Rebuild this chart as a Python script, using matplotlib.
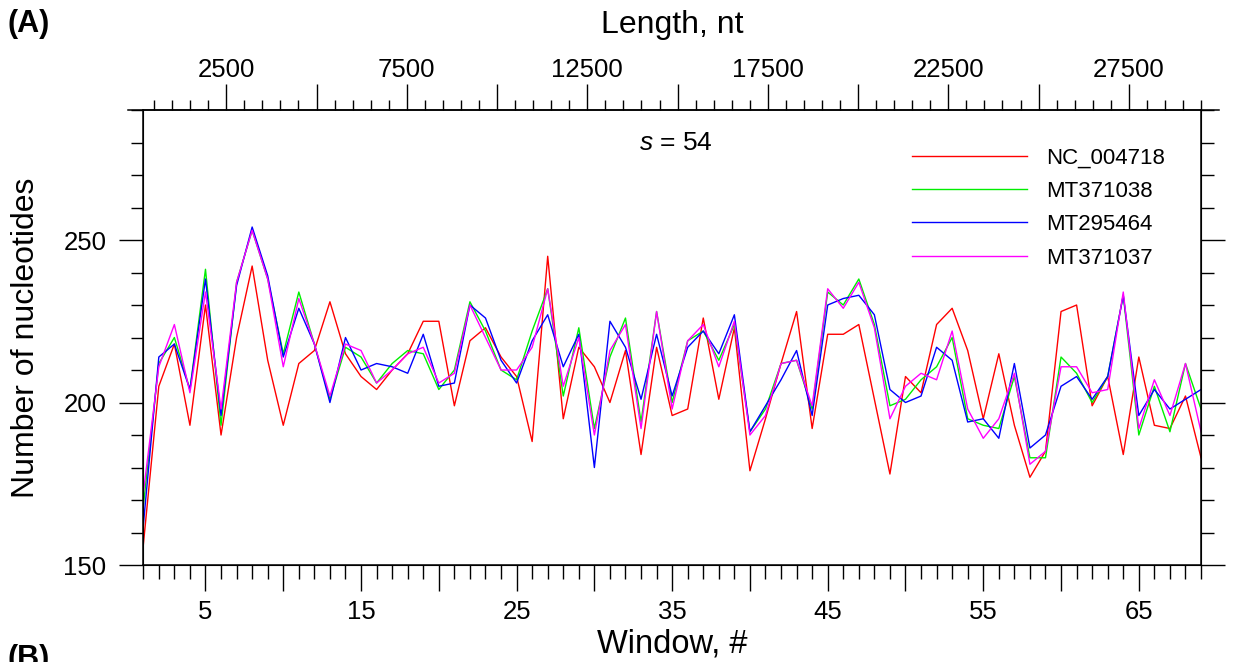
import numpy as np
import matplotlib.pyplot as plt
from matplotlib.ticker import MultipleLocator, FuncFormatter

plt.rcParams['font.family'] = ['Liberation Sans', 'DejaVu Sans']
plt.rcParams['mathtext.fontset'] = 'custom'
plt.rcParams['mathtext.it'] = 'Liberation Sans:italic'
plt.rcParams['mathtext.rm'] = 'Liberation Sans'

window = np.arange(1, 70)
nc_004718 = [156, 205, 218, 193, 230, 190, 220, 242, 213, 193,
             212, 216, 231, 215, 208, 204, 210, 215, 225, 225,
             199, 219, 223, 214, 208, 188, 245, 195, 217, 211,
             200, 216, 184, 217, 196, 198, 226, 201, 223, 179,
             195, 212, 228, 192, 221, 221, 224, 201, 178, 208,
             203, 224, 229, 216, 195, 215, 193, 177, 185, 228,
             230, 199, 208, 184, 214, 193, 192, 202, 183]
mt371038 = [168, 212, 220, 204, 241, 193, 237, 253, 238, 215,
            234, 218, 201, 217, 214, 206, 212, 216, 215, 204,
            210, 231, 222, 210, 207, 222, 235, 202, 223, 192,
            214, 226, 194, 228, 200, 219, 222, 213, 224, 191,
            198, 212, 213, 198, 234, 230, 238, 224, 199, 201,
            207, 211, 220, 195, 193, 192, 208, 183, 183, 214,
            209, 200, 208, 233, 190, 205, 191, 212, 198]
mt295464 = [162, 214, 218, 204, 238, 196, 236, 254, 239, 214,
            229, 218, 200, 220, 210, 212, 211, 209, 221, 205,
            206, 230, 226, 213, 206, 219, 227, 211, 221, 180,
            225, 217, 201, 221, 202, 217, 222, 215, 227, 191,
            199, 207, 216, 196, 230, 232, 233, 227, 204, 200,
            202, 217, 213, 194, 195, 189, 212, 186, 190, 205,
            208, 201, 208, 233, 196, 204, 198, 201, 204]
mt371037 = [172, 211, 224, 203, 234, 198, 237, 253, 238, 211,
            232, 218, 202, 218, 216, 206, 210, 215, 217, 206,
            209, 230, 220, 210, 210, 217, 235, 205, 220, 190,
            216, 224, 192, 228, 198, 219, 224, 211, 225, 190,
            196, 212, 213, 199, 235, 229, 237, 223, 195, 205,
            209, 207, 222, 198, 189, 195, 209, 181, 185, 211,
            211, 203, 204, 234, 192, 207, 196, 212, 191]

names = ['NC_004718', 'MT371038', 'MT295464', 'MT371037']
colors = ['#ff0000', '#00ee00', '#0000ff', '#ff00ff']
series = [nc_004718, mt371038, mt295464, mt371037]

fig = plt.figure(figsize=(12.35, 6.62), dpi=100)
ax = fig.add_axes([0.116, 0.1465, 0.8565, 0.6873])

for vals, name, c in zip(series, names, colors):
    ax.plot(window, vals, color=c, lw=1.0, label=name)

ax.set_xlim(1, 69)
ax.set_ylim(150, 290)

# bottom axis: windows
ax.xaxis.set_major_locator(MultipleLocator(5))
ax.xaxis.set_minor_locator(MultipleLocator(1))
ax.xaxis.set_major_formatter(FuncFormatter(lambda v, p: '%d' % v if int(v) % 10 == 5 else ''))
ax.yaxis.set_major_locator(MultipleLocator(50))
ax.yaxis.set_minor_locator(MultipleLocator(10))
ax.tick_params(axis='x', which='major', direction='out', length=18.5, width=1.0, labelsize=18.5, pad=7)
ax.tick_params(axis='x', which='minor', direction='out', length=10, width=1.0)
ax.tick_params(axis='y', which='major', direction='out', length=17.5, width=1.0, labelsize=18.5,
               pad=9, right=True)
ax.tick_params(axis='y', which='minor', direction='out', length=9, width=1.0, right=True)
for s in ax.spines.values():
    s.set_linewidth(1.1)

ax.set_xlabel('Window, #', fontsize=23.5, labelpad=3)
ax.set_ylabel('Number of nucleotides', fontsize=23, labelpad=16)

# top axis: length in nt
top = ax.twiny()
top.set_xlim(200, 29500)
top.xaxis.set_major_locator(MultipleLocator(2500))
top.xaxis.set_minor_locator(MultipleLocator(500))
top.xaxis.set_major_formatter(FuncFormatter(lambda v, p: '%d' % v if int(v) % 5000 == 2500 else ''))
top.tick_params(axis='x', which='major', direction='out', length=19, width=1.0, labelsize=18.5, pad=1)
top.tick_params(axis='x', which='minor', direction='out', length=7.5, width=1.0)
top.set_xlabel('Length, nt', fontsize=23, labelpad=18)
top.spines['top'].set_bounds(-220, 30000)
top.spines['top'].set_linewidth(1.1)

ax.text(0.504, 0.927, '$s$ = 54', transform=ax.transAxes, fontsize=19, ha='center', va='center')

leg = ax.legend(loc='upper right', bbox_to_anchor=(0.985, 0.962), frameon=False, fontsize=16,
                handlelength=5.2, handletextpad=0.85, labelspacing=0.56)

fig.text(0.006, 0.963, '(A)', fontsize=22, fontweight='bold', va='center')
fig.text(0.006, 0.005, '(B)', fontsize=22, fontweight='bold', va='center')

fig.savefig('out.png', dpi=100)
